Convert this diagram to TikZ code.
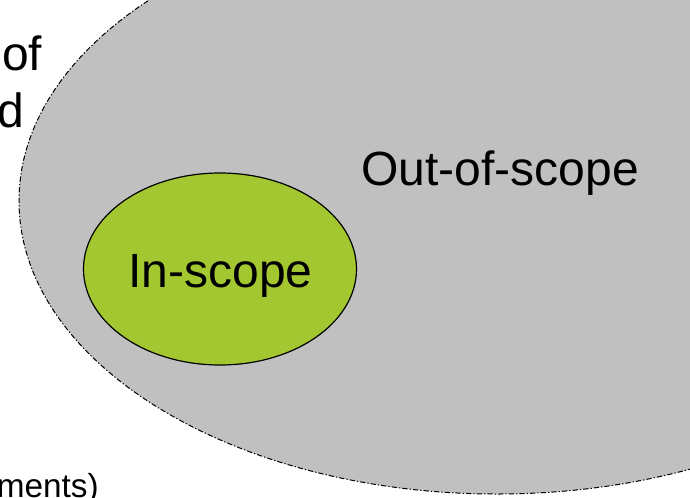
\documentclass[tikz,border=0pt]{standalone}
\usepackage{fontspec}
\setmainfont{Liberation Sans}
\definecolor{scopegrey}{RGB}{192,192,192}
\definecolor{scopegreen}{RGB}{163,199,48}

\begin{document}
\begin{tikzpicture}[x=0.75pt,y=0.75pt,yscale=-1,xscale=1,
  bigtext/.style={inner sep=0pt,font=\fontsize{36}{43}\selectfont},
  foottext/.style={inner sep=0pt,font=\fontsize{25}{30}\selectfont}]
\useasboundingbox (0,0) rectangle (690,497);

%Shape: Ellipse [outer scope]
\draw [fill=scopegrey, line width=0.75pt, dash pattern=on 4pt off 1.5pt on 1pt off 1.5pt]  (497,201) ellipse (478 and 293);
%Shape: Ellipse [inner scope]
\draw [fill=scopegreen, line width=0.9pt]  (220,269) ellipse (136.5 and 96);

% Text Node
\node (outscope) at (500,185) [anchor=base, bigtext] {Out-of-scope};
% Text Node
\node (inscope) at (220.5,287) [anchor=base, bigtext] {In-scope};
% Text Node
\node (sideof) at (2,70) [anchor=base west, bigtext] {of};
% Text Node
\node (sided) at (24,127) [anchor=base east, bigtext] {d};
% Text Node
\node (footments) at (99,497) [anchor=base east, foottext] {ments)};

\end{tikzpicture}
\end{document}
